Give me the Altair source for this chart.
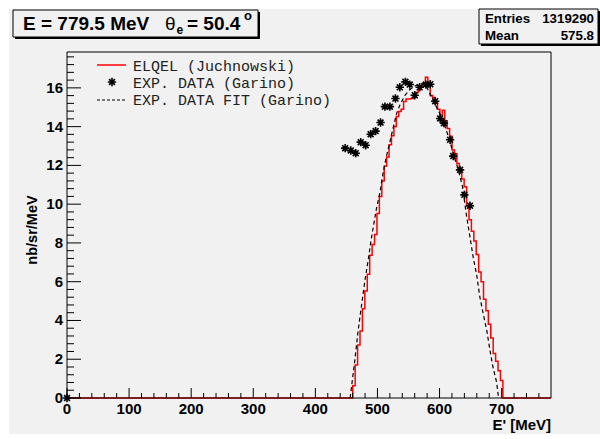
import altair as alt
import pandas as pd

# ---------------- data ----------------
hist_lo = 460.2          # left edge of first non-empty bin (MeV)
hist_bw = 3.9            # bin width (MeV)
hist_vals = [0.63, 1.7, 2.73, 3.46, 4.61, 5.52, 6.38, 7.36, 7.92, 8.44,
             9.52, 10.4, 11.2, 11.95, 12.43, 13.07, 13.53, 14.01, 14.52, 14.78,
             14.9, 15.29, 15.42, 15.42, 15.45, 15.5, 15.76, 15.9, 16.1, 16.15,
             16.55, 16.1, 15.6, 15.5, 15.2, 14.9, 14.6, 14.85,
             14.3, 13.9, 13.5, 12.8, 12.6, 12.1, 11.8, 11.3, 10.9, 9.9,
             9.2, 8.6, 8.1, 7.4, 6.5, 6.0, 5.1, 4.5, 3.8, 3.1,
             2.3, 1.9, 1.4, 0.9]

star_e = [0, 448, 457, 465, 473, 481, 489, 497, 505, 512, 520, 529, 536, 545,
          552, 560, 568, 578, 585, 593, 601, 607, 617, 622, 633, 640, 649]
star_v = [0, 12.89, 12.77, 12.63, 13.20, 13.04, 13.61, 13.77, 14.21, 15.03,
          15.03, 15.45, 16.03, 16.31, 16.17, 15.62, 16.03, 16.17, 16.19, 15.31,
          14.42, 14.18, 13.32, 12.48, 11.77, 10.48, 9.92]

fit_e = [456, 463, 469, 474, 480, 485, 490, 498, 504, 509,
         514, 520, 525, 531, 536, 544, 552, 560, 568, 574,
         580, 586, 592, 600, 608, 616, 623, 630, 637, 643,
         649, 654, 660, 665, 670, 676, 681, 686, 692, 695]
fit_v = [0, 1.8, 3.5, 4.7, 6.1, 7.1, 8.2, 9.7, 10.6, 11.6,
         12.4, 13.2, 13.9, 14.7, 15.1, 15.6, 15.9, 16.1, 16.2, 16.25,
         16.0, 15.6, 15.2, 14.7, 14.1, 13.3, 12.5, 11.8, 10.9, 9.5,
         8.3, 7.3, 6.3, 5.2, 4.4, 3.5, 2.5, 1.6, 0.8, 0]

x_major = [0, 100, 200, 300, 400, 500, 600, 700]
y_major = [0, 2, 4, 6, 8, 10, 12, 14, 16]
x_title = "E' [MeV]"
y_title = "nb/sr/MeV"
legend_labels = ["ELQEL (Juchnowski)", "EXP. DATA (Garino)", "EXP. DATA FIT (Garino)"]
title_main = "E = 779.5 MeV"
title_rest = "= 50.4"
stats_labels = ["Entries", "Mean"]
stats_values = ["1319290", "575.8"]

X_MAX = 779.5
Y_MAX = 17.85

# ---------------- geometry ----------------
W, H = 484, 346
PAD = {"left": 67, "top": 52, "right": 49, "bottom": 41}
GRAY = "#f1f1f1"
SANS = "Liberation Sans"
MONO = "Liberation Mono"

xs = alt.Scale(domain=[0, X_MAX], nice=False, zero=False)
ys = alt.Scale(domain=[0, Y_MAX], nice=False, zero=False)

# histogram table (step-after)
edges = [hist_lo + i * hist_bw for i in range(len(hist_vals) + 1)]
h_e = [0.0] + edges + [X_MAX]
h_v = [0.0] + hist_vals + [0.0, 0.0]
hist_df = pd.DataFrame({"e": h_e, "v": h_v})
star_df = pd.DataFrame({"e": star_e, "v": star_v})
fit_df = pd.DataFrame({"e": fit_e, "v": fit_v})

one = pd.DataFrame({"a": [0]})


def px_rect(x1, y1, x2, y2, **kw):
    return alt.Chart(one).mark_rect(**kw).encode(
        x=alt.value(x1 - PAD["left"]), x2=alt.value(x2 - PAD["left"]),
        y=alt.value(y1 - PAD["top"]), y2=alt.value(y2 - PAD["top"]))


def px_text(txt, x, y, **kw):
    return alt.Chart(one).mark_text(text=txt, **kw).encode(
        x=alt.value(x - PAD["left"]), y=alt.value(y - PAD["top"]))


def px_rule(x1, y1, x2, y2, **kw):
    return alt.Chart(one).mark_rule(**kw).encode(
        x=alt.value(x1 - PAD["left"]), x2=alt.value(x2 - PAD["left"]),
        y=alt.value(y1 - PAD["top"]), y2=alt.value(y2 - PAD["top"]))


# background pad
pad_bg = px_rect(9, 9, 600, 434, color=GRAY)

hist = alt.Chart(hist_df).mark_line(interpolate="step-after", color="#ff0000",
                                    strokeWidth=1.5).encode(
    x=alt.X("e:Q", scale=xs, axis=None), y=alt.Y("v:Q", scale=ys, axis=None))

fit = alt.Chart(fit_df).mark_line(color="black", strokeWidth=1.2,
                                  strokeDash=[4, 3]).encode(
    x=alt.X("e:Q", scale=xs, axis=None), y=alt.Y("v:Q", scale=ys, axis=None))

STAR = "M-1,0L1,0M0,-1L0,1M-0.7,-0.7L0.7,0.7M-0.7,0.7L0.7,-0.7"
stars = alt.Chart(star_df).mark_point(shape=STAR, filled=False, color="black",
                                      strokeWidth=1.6, size=70, opacity=1).encode(
    x=alt.X("e:Q", scale=xs, axis=None), y=alt.Y("v:Q", scale=ys, axis=None))

# inward ticks
x_minor = [v for v in range(20, 780, 20) if v % 100 != 0]
y_minor = [round(i * 0.4, 1) for i in range(1, 45) if i % 5 != 0]
xt_major = alt.Chart(pd.DataFrame({"t": x_major})).mark_rule(color="black", strokeWidth=1).encode(
    x=alt.X("t:Q", scale=xs, axis=None), y=alt.value(H), y2=alt.value(H - 10))
xt_minor = alt.Chart(pd.DataFrame({"t": x_minor})).mark_rule(color="black", strokeWidth=1).encode(
    x=alt.X("t:Q", scale=xs, axis=None), y=alt.value(H), y2=alt.value(H - 5))
yt_major = alt.Chart(pd.DataFrame({"t": y_major})).mark_rule(color="black", strokeWidth=1).encode(
    y=alt.Y("t:Q", scale=ys, axis=None), x=alt.value(0), x2=alt.value(14))
yt_minor = alt.Chart(pd.DataFrame({"t": y_minor})).mark_rule(color="black", strokeWidth=1).encode(
    y=alt.Y("t:Q", scale=ys, axis=None), x=alt.value(0), x2=alt.value(7))

# tick labels
xl = alt.Chart(pd.DataFrame({"t": x_major})).mark_text(
    font=SANS, fontSize=15, fontWeight="bold", color="black", baseline="middle",
    align="center").encode(
    x=alt.X("t:Q", scale=xs, axis=None), y=alt.value(H + 11), text=alt.Text("t:Q", format="d"))
yl = alt.Chart(pd.DataFrame({"t": y_major})).mark_text(
    font=SANS, fontSize=15, fontWeight="bold", color="black", baseline="middle",
    align="right").encode(
    y=alt.Y("t:Q", scale=ys, axis=None), x=alt.value(-4), text=alt.Text("t:Q", format="d"))
xtitle = px_text(x_title, 551, 425, font=SANS, fontSize=15, fontWeight="bold",
                 align="right", baseline="middle", color="black")
ytitle = px_text(y_title, 33, 230, font=SANS, fontSize=14.5, fontWeight="bold",
                 align="center", baseline="middle", angle=270, color="black")

# frame
frame = px_rect(67, 52, 551, 398, fillOpacity=0, stroke="black", strokeWidth=1)

# legend
leg = [
    px_rule(97, 65, 126, 65, color="#ff0000", strokeWidth=1.5),
    alt.Chart(one).mark_point(shape=STAR, filled=False, color="black", strokeWidth=1.6,
                              size=70, opacity=1).encode(
        x=alt.value(112 - PAD["left"]), y=alt.value(82 - PAD["top"])),
    px_rule(97, 100, 126, 100, color="black", strokeWidth=1.2, strokeDash=[3, 2]),
]
for i, lab in enumerate(legend_labels):
    leg.append(px_text(lab, 133, [65.5, 82.5, 100][i], font=MONO, fontSize=15,
                       align="left", baseline="middle", color="#222222"))

# title box
title_parts = [
    px_rect(15, 12, 260, 39, color="black"),
    px_rect(13, 10, 258, 37, fill=GRAY, stroke="black", strokeWidth=1),
    px_text(title_main, 23, 30, font=SANS, fontSize=19, fontWeight="bold",
            align="left", baseline="alphabetic", color="black"),
    px_text("\u03b8", 165, 30, font=SANS, fontSize=19, align="left",
            baseline="alphabetic", color="black"),
    px_text("e", 176.5, 34, font=SANS, fontSize=12, fontWeight="bold", align="left",
            baseline="alphabetic", color="black"),
    px_text(title_rest, 187, 30, font=SANS, fontSize=19, fontWeight="bold",
            align="left", baseline="alphabetic", color="black"),
    px_text("o", 244, 20, font=SANS, fontSize=13, fontWeight="bold", align="left",
            baseline="alphabetic", color="black"),
]

# stats box
stats_parts = [
    px_rect(481, 11, 600, 46, color="black"),
    px_rect(479, 9, 598, 44, fill=GRAY, stroke="black", strokeWidth=1),
]
for i, (lab, val) in enumerate(zip(stats_labels, stats_values)):
    yy = [18.5, 35.5][i]
    stats_parts.append(px_text(lab, 485, yy, font=SANS, fontSize=13.3, fontWeight="bold",
                               align="left", baseline="middle", color="black"))
    stats_parts.append(px_text(val, 594, yy, font=SANS, fontSize=13.3, fontWeight="bold",
                               align="right", baseline="middle", color="black"))

chart = alt.layer(
    pad_bg, hist, fit, stars, xt_major, xt_minor, yt_major, yt_minor, frame,
    xl, yl, xtitle, ytitle,
    *leg, *title_parts, *stats_parts
).properties(
    width=W, height=H, padding=PAD,
    autosize=alt.AutoSizeParams(type="none"),
    background="white",
).configure_view(stroke=None)

chart.save("out.html", embed_options={"renderer": "svg", "actions": False})
